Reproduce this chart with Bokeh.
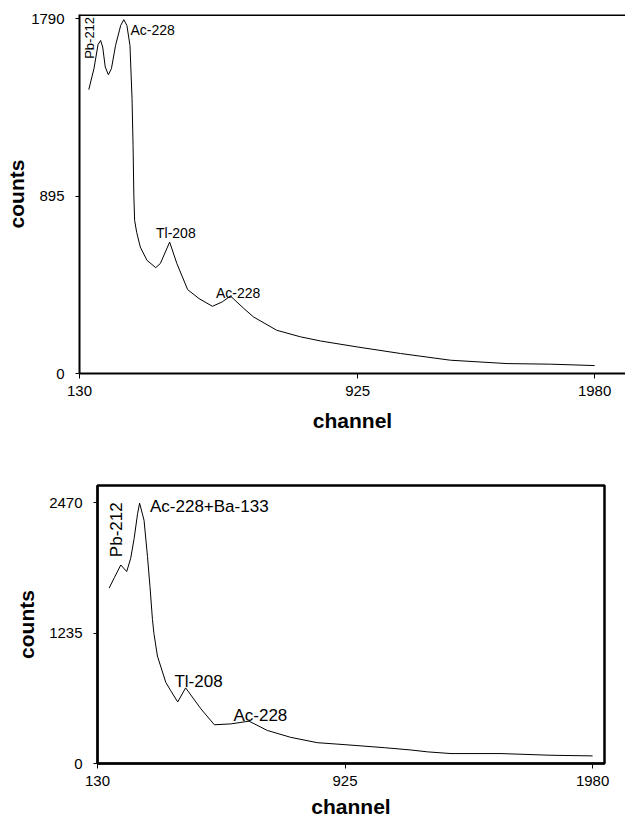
import math
from bokeh.plotting import figure
from bokeh.models import Range1d, FixedTicker, Span, ColumnDataSource, Title
from bokeh.core.properties import value
from bokeh.embed import file_html
from bokeh.resources import INLINE

# ---------------- data ----------------
# x is the position along the (category-style) channel axis, 0..100
TOP_TICK_POS = [0, 54, 100]
TOP_TICK_LABELS = ["130", "925", "1980"]
TOP_Y_TICKS = [0, 895, 1790]

TOP_POS = [1.8, 2.8, 3.6, 4.1, 4.5, 5.0, 5.6, 6.2, 7.0, 8.0,
           8.6, 9.2, 9.8, 10.2, 10.4, 10.55, 10.7, 11.1, 11.8, 13.1,
           14.8, 15.7, 17.5, 18.9, 21.0, 23.2, 25.8, 27.7, 29.3, 31.9,
           33.8, 38.3, 42.9, 46.8, 53.9, 62.3, 72.0, 83.0, 91.5, 100.0]
TOP_COUNTS = [1432, 1537, 1659, 1680, 1647, 1546, 1507, 1538, 1655, 1756,
              1785, 1756, 1655, 1386, 1150, 900, 773, 712, 638, 571,
              534, 555, 663, 555, 423, 378, 339, 361, 391, 328,
              285, 218, 185, 164, 134, 101, 67, 50, 47, 40]

TOP_PEAKS = ["Pb-212", "Ac-228", "Tl-208", "Ac-228"]
TOP_PEAK_X = [1.94, 9.9, 18.7, 30.8]
TOP_PEAK_Y = [1693, 1733, 707, 407]

BOT_TICK_POS = [0, 50, 100]
BOT_TICK_LABELS = ["130", "925", "1980"]
BOT_Y_TICKS = [0, 1235, 2470]

BOT_POS = [2.35, 3.4, 4.7, 5.9, 6.7, 7.4, 8.1, 8.5, 9.4,
           10.1, 10.6, 11.1, 11.4, 12.1, 13.8, 14.8, 16.2, 17.8, 20.9,
           23.6, 26.9, 30.6, 34.3, 39.0, 44.4, 49.8, 57.9, 63.3, 66.7,
           71.4, 81.5, 91.6, 100.0]
BOT_COUNTS = [1661, 1760, 1880, 1818, 1943, 2131, 2367, 2466, 2304,
              1959, 1676, 1363, 1230, 1018, 768, 689, 583, 716, 517,
              367, 375, 401, 313, 248, 197, 179, 150, 128, 110,
              94, 94, 78, 72]

BOT_PEAKS = ["Pb-212", "Ac-228+Ba-133", "Tl-208", "Ac-228"]
BOT_PEAK_X = [3.9, 10.6, 20.4, 32.9]
BOT_PEAK_Y = [2214, 2430, 780, 456]

X_TITLE = "channel"
Y_TITLE = "counts"

FONT = "Liberation Sans"


def style_axes(p, xticks, xlabels, yticks):
    p.xaxis.ticker = FixedTicker(ticks=xticks)
    p.xaxis.major_label_overrides = {t: l for t, l in zip(xticks, xlabels)}
    p.yaxis.ticker = FixedTicker(ticks=yticks)
    for ax in (p.xaxis, p.yaxis):
        ax.axis_line_color = "black"
        ax.axis_line_width = 2
        ax.major_tick_line_color = "black"
        ax.major_tick_line_width = 1
        ax.major_tick_in = 0
        ax.minor_tick_line_color = None
        ax.major_label_text_font = FONT
        ax.major_label_text_font_size = "15px"
        ax.major_label_text_color = "black"
    p.xaxis.major_tick_out = 5
    p.yaxis.major_tick_out = 4
    p.xaxis.major_label_standoff = 7
    p.yaxis.major_label_standoff = 11
    p.xgrid.visible = False
    p.ygrid.visible = False


def add_titles(p, x_standoff, y_standoff):
    p.add_layout(Title(text=X_TITLE, align="center", standoff=x_standoff,
                       text_font=FONT, text_font_style="bold",
                       text_font_size="21px", text_color="black"), "below")
    p.add_layout(Title(text=Y_TITLE, align="center", standoff=y_standoff,
                       text_font=FONT, text_font_style="bold",
                       text_font_size="21px", text_color="black"), "left")


# ---------------- top chart ----------------
p1 = figure(width=625, height=450, output_backend="svg", toolbar_location=None,
            title=None,
            x_range=Range1d(0, 106.0), y_range=Range1d(0, 1811),
            min_border_left=79, min_border_right=0, min_border_top=14,
            min_border_bottom=77)
p1.outline_line_color = None
p1.background_fill_color = "white"
p1.border_fill_color = "white"
style_axes(p1, TOP_TICK_POS, TOP_TICK_LABELS, TOP_Y_TICKS)
add_titles(p1, 16, 1)
p1.add_layout(Span(location=1811, dimension="width", line_color="black", line_width=3))
p1.line(TOP_POS, TOP_COUNTS, line_color="black", line_width=1)

src1 = ColumnDataSource(dict(x=TOP_PEAK_X, y=TOP_PEAK_Y, t=TOP_PEAKS,
                             a=[math.pi / 2, 0, 0, 0],
                             al=["center", "left", "center", "center"],
                             bl=["middle", "alphabetic", "alphabetic", "alphabetic"],
                             fs=["13px", "14px", "14px", "14px"]))
p1.text(x="x", y="y", text="t", angle="a", text_align="al", text_baseline="bl",
        text_font_size="fs", text_font=value(FONT), text_color="black", source=src1)

# ---------------- bottom chart ----------------
p2 = figure(width=625, height=371, output_backend="svg", toolbar_location=None,
            title=None,
            x_range=Range1d(0, 102.4), y_range=Range1d(0, 2633),
            min_border_left=97, min_border_right=21, min_border_top=35,
            min_border_bottom=56)
p2.outline_line_color = "black"
p2.outline_line_width = 2.5
p2.background_fill_color = "white"
p2.border_fill_color = "white"
style_axes(p2, BOT_TICK_POS, BOT_TICK_LABELS, BOT_Y_TICKS)
add_titles(p2, 8, 18)
p2.line(BOT_POS, BOT_COUNTS, line_color="black", line_width=1)

src2 = ColumnDataSource(dict(x=BOT_PEAK_X, y=BOT_PEAK_Y, t=BOT_PEAKS,
                             a=[math.pi / 2, 0, 0, 0],
                             al=["center", "left", "center", "center"],
                             bl=["middle", "alphabetic", "alphabetic", "alphabetic"]))
p2.text(x="x", y="y", text="t", angle="a", text_align="al", text_baseline="bl",
        text_font_size="17px", text_font=value(FONT), text_color="black", source=src2)

open("out.html", "w").write(file_html([p1, p2], INLINE))
